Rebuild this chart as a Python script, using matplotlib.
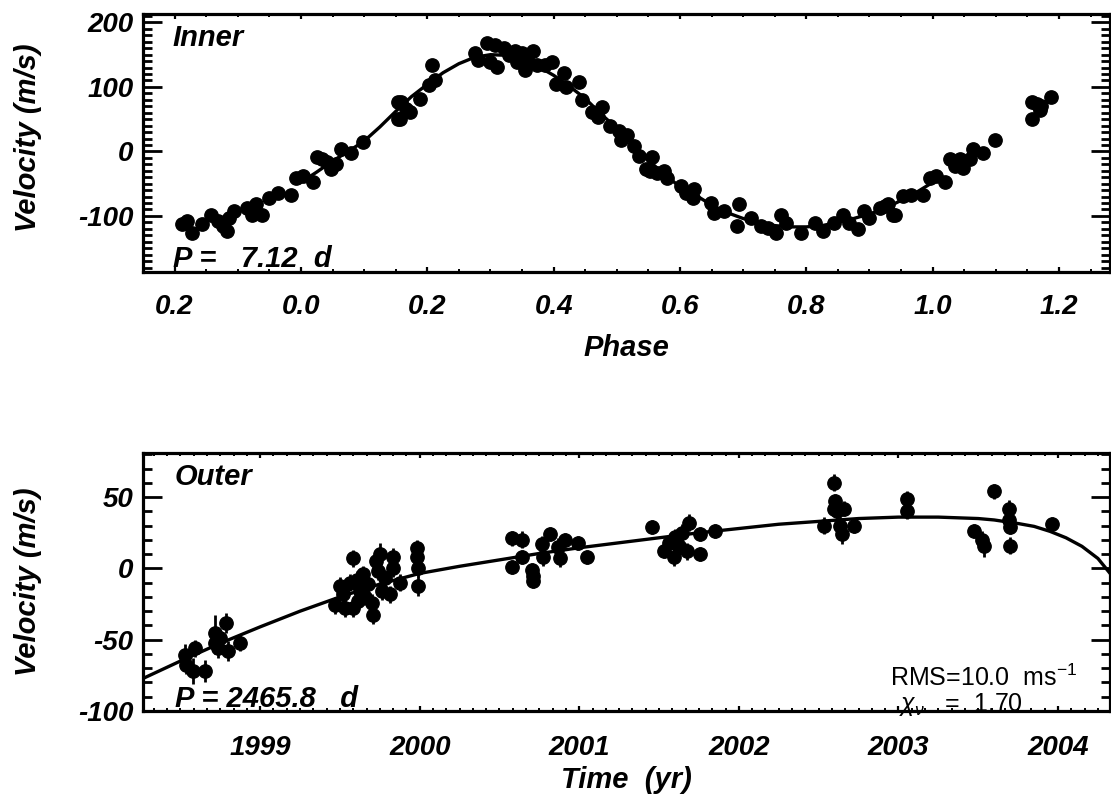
import numpy as np
import matplotlib
matplotlib.use("Agg")
import matplotlib.pyplot as plt
from matplotlib.ticker import FixedLocator, FixedFormatter, MultipleLocator

plt.rcParams['font.family'] = ['Liberation Sans', 'DejaVu Sans']
plt.rcParams['axes.unicode_minus'] = False
plt.rcParams['mathtext.fontset'] = 'custom'
plt.rcParams['mathtext.rm'] = 'Liberation Sans'
plt.rcParams['mathtext.it'] = 'Liberation Sans:italic'

################################### DATA ###################################

# inner planet, phase folded velocities
inner_phase = [-0.188, -0.180, -0.172, -0.156, -0.143, -0.132, -0.124, -0.117, -0.114, -0.106,
               -0.085, -0.077, -0.071, -0.061, -0.050, -0.037, -0.016, -0.008, 0.003, 0.019,
               0.026, 0.034, 0.042, 0.048, 0.056, 0.063, 0.079, 0.098, 0.153, 0.153,
               0.159, 0.167, 0.157, 0.173, 0.188, 0.202, 0.212, 0.207, 0.276, 0.281,
               0.294, 0.307, 0.300, 0.310, 0.321, 0.329, 0.339, 0.342, 0.350, 0.355,
               0.358, 0.368, 0.374, 0.387, 0.397, 0.403, 0.416, 0.419, 0.440, 0.445,
               0.461, 0.477, 0.471, 0.490, 0.503, 0.506, 0.516, 0.527, 0.535, 0.546,
               0.556, 0.564, 0.553, 0.575, 0.580, 0.601, 0.609, 0.622, 0.620, 0.649,
               0.654, 0.670, 0.694, 0.691, 0.712, 0.728, 0.739, 0.752, 0.760, 0.768,
               0.792, 0.813, 0.826, 0.844, 0.858, 0.868, 0.882, 0.892, 0.900, 0.916,
               0.929, 0.940, 0.953, 0.924, 0.937, 0.966, 0.985, 0.995, 1.006, 1.019,
               1.027, 1.035, 1.043, 1.048, 1.059, 1.064, 1.079, 1.098, 1.157, 1.157,
               1.170, 1.165, 1.188, 1.172]
inner_vel = [-112, -108, -127, -112, -98, -108, -116, -124, -103, -93,
             -88, -98, -82, -98, -72, -64, -67, -41, -38, -48,
             -9, -12, -17, -28, -20, 4, -2, 14, 77, 50,
             77, 66, 50, 61, 82, 103, 110, 134, 152, 142,
             168, 165, 139, 131, 160, 150, 155, 139, 152, 126,
             144, 155, 134, 134, 139, 105, 121, 100, 108, 79,
             61, 69, 53, 40, 32, 17, 25, 9, -7, -28,
             -9, -33, -30, -30, -41, -54, -64, -59, -72, -80,
             -95, -93, -82, -116, -103, -116, -119, -127, -98, -111,
             -127, -111, -124, -111, -98, -111, -121, -93, -103, -88,
             -82, -98, -69, -85, -98, -67, -67, -41, -38, -48,
             -12, -22, -12, -25, -12, 4, -2, 17, 77, 50,
             64, 74, 84, 71]

# inner fitted curve
inner_fit_phase = [0.000, 0.025, 0.050, 0.075, 0.100, 0.125, 0.150, 0.175, 0.200, 0.225,
                   0.250, 0.275, 0.300, 0.325, 0.350, 0.375, 0.400, 0.425, 0.450, 0.475,
                   0.500, 0.525, 0.550, 0.575, 0.600, 0.625, 0.650, 0.675, 0.700, 0.725,
                   0.750, 0.775, 0.800, 0.825, 0.850, 0.875, 0.900, 0.925, 0.950, 0.975,
                   1.000]
inner_fit_vel = [-48, -32, -15, 0, 16, 38, 62, 85, 104, 122,
                 136, 146, 150, 149, 143, 132, 118, 101, 82, 58,
                 36, 12, -14, -35, -55, -68, -83, -95, -104, -110,
                 -115, -117, -117, -115, -110, -104, -97, -88, -76, -63,
                 -48]

# outer planet, velocities vs time
outer_year = [1998.528, 1998.538, 1998.580, 1998.591, 1998.653, 1998.716, 1998.716, 1998.737,
              1998.789, 1998.799, 1998.873, 1998.747,
              1999.468, 1999.500, 1999.520, 1999.531, 1999.583, 1999.583, 1999.604, 1999.625,
              1999.646, 1999.656, 1999.677, 1999.698, 1999.708, 1999.729, 1999.740, 1999.750,
              1999.761, 1999.781, 1999.813, 1999.834, 1999.834, 1999.876, 1999.980, 1999.980,
              1999.991, 1999.991, 1999.562, 1999.614,
              2000.576, 2000.576, 2000.638, 2000.638, 2000.701, 2000.712, 2000.712, 2000.764,
              2000.774, 2000.816, 2000.868, 2000.879, 2000.910, 2000.994, 2001.046,
              2001.456, 2001.529, 2001.560, 2001.591, 2001.602, 2001.623, 2001.644, 2001.675,
              2001.686, 2001.759, 2001.759, 2001.853,
              2002.532, 2002.594, 2002.605, 2002.616, 2002.636, 2002.647, 2002.657, 2002.594,
              2002.720,
              2003.054, 2003.054,
              2003.472, 2003.525, 2003.535, 2003.597, 2003.691, 2003.691, 2003.702, 2003.702,
              2003.963]
outer_vel = [-61, -68, -72, -56, -72, -45, -52, -56,
             -38, -58, -52, -49,
             -26, -12, -18, -28, 7, -28, -8, -16,
             -4, -20, -11, -24, -33, 5, -2, 10,
             -16, -7, -18, 8, 0, -10, 14, 8,
             0, -12, -10, -23,
             21, 1, 20, 8, -1, -5, -9, 17,
             8, 24, 15, 7, 20, 18, 8,
             29, 12, 18, 8, 22, 16, 25, 12,
             32, 24, 10, 26,
             30, 60, 47, 40, 30, 24, 42, 42,
             30,
             49, 40,
             26, 20, 16, 54, 42, 34, 29, 16,
             31]
outer_err = [8, 6, 9, 6, 8, 12, 8, 7,
             7, 7, 6, 6,
             6, 6, 6, 6, 6, 6, 6, 6,
             6, 6, 6, 6, 6, 6, 6, 8,
             6, 6, 6, 6, 6, 6, 6, 6,
             6, 7, 6, 6,
             5, 5, 6, 5, 5, 5, 5, 6,
             6, 5, 6, 6, 5, 5, 5,
             5, 5, 5, 6, 6, 6, 6, 6,
             6, 5, 5, 5,
             6, 6, 5, 5, 6, 7, 5, 5,
             5,
             5, 5,
             5, 6, 8, 5, 6, 6, 5, 6,
             5]

# outer fitted curve
outer_fit_year = [1998.27, 1998.50, 1998.75, 1999.00, 1999.25, 1999.50, 1999.75, 2000.00,
                  2000.25, 2000.50, 2000.75, 2001.00, 2001.25, 2001.50, 2001.75, 2002.00,
                  2002.25, 2002.50, 2002.75, 2003.00, 2003.25, 2003.50, 2003.60, 2003.75,
                  2003.85, 2003.95, 2004.05, 2004.15, 2004.25, 2004.33]
outer_fit_vel = [-77, -65, -52.5, -41, -30, -20, -11, -3.5,
                 1.5, 6, 10.5, 14.5, 18, 21.5, 25, 28,
                 31, 33, 35, 36, 36, 35, 34, 31.5,
                 29.5, 26, 21.5, 15.5, 7, -4]

inner_xticks = [-0.2, 0.0, 0.2, 0.4, 0.6, 0.8, 1.0, 1.2]
inner_xlabels = ['0.2', '0.0', '0.2', '0.4', '0.6', '0.8', '1.0', '1.2']
inner_yticks = [-100, 0, 100, 200]
outer_xticks = [1999, 2000, 2001, 2002, 2003, 2004]
outer_yticks = [-100, -50, 0, 50]

################################### PLOT ###################################

fig = plt.figure(figsize=(11.11, 8.02), dpi=100)
ax1 = fig.add_axes([0.1287, 0.6608, 0.8700, 0.3217])
ax2 = fig.add_axes([0.1287, 0.1135, 0.8700, 0.3217])

bold = dict(fontsize=21, fontweight='bold', fontstyle='italic')


def style_axes(ax, xpad):
  for s in ax.spines.values():
    s.set_linewidth(2.3)
  ax.tick_params(which='both', direction='in', top=True, right=True, colors='black')
  ax.tick_params(axis='x', which='major', length=3.8, width=1.6, pad=xpad)
  ax.tick_params(axis='x', which='minor', length=2.0, width=1.4)
  ax.tick_params(axis='y', which='major', length=13.5, width=2.0, pad=7)
  ax.tick_params(axis='y', which='minor', length=6.8, width=2.0)
  for lab in ax.get_xticklabels() + ax.get_yticklabels():
    lab.set_fontsize(20)
    lab.set_fontweight('bold')
    lab.set_fontstyle('italic')


# inner
ax1.plot(inner_fit_phase, inner_fit_vel, color='black', lw=2.4, zorder=2)
ax1.plot(inner_phase, inner_vel, 'o', color='black', ms=9.6, zorder=3)
ax1.set_xlim(-0.25, 1.28)
ax1.set_ylim(-187, 213)
ax1.xaxis.set_major_locator(FixedLocator(inner_xticks))
ax1.xaxis.set_major_formatter(FixedFormatter(inner_xlabels))
ax1.xaxis.set_minor_locator(MultipleLocator(0.05))
ax1.yaxis.set_major_locator(FixedLocator(inner_yticks))
ax1.yaxis.set_minor_locator(MultipleLocator(10))
style_axes(ax1, 16)
ax1.set_xlabel('Phase', **bold)
ax1.set_ylabel('Velocity (m/s)', **bold)
ax1.xaxis.set_label_coords(0.5, -0.24)
ax1.yaxis.set_label_coords(-0.104, 0.52)
ax1.text(0.031, 0.878, 'Inner', transform=ax1.transAxes, **bold)
ax1.text(0.031, 0.02, 'P =   7.12  d', transform=ax1.transAxes, **bold)

# outer
ax2.plot(outer_fit_year, outer_fit_vel, color='black', lw=2.4, zorder=2)
ax2.errorbar(outer_year, outer_vel, yerr=outer_err, fmt='o', color='black', ms=9.6,
             elinewidth=2.0, capsize=0, zorder=3)
ax2.set_xlim(1998.266, 2004.323)
ax2.set_ylim(-100, 81)
ax2.xaxis.set_major_locator(FixedLocator(outer_xticks))
ax2.xaxis.set_minor_locator(MultipleLocator(1 / 12))
ax2.yaxis.set_major_locator(FixedLocator(outer_yticks))
ax2.yaxis.set_minor_locator(MultipleLocator(10))
style_axes(ax2, 17)
ax2.set_xlabel('Time  (yr)', **bold)
ax2.set_ylabel('Velocity (m/s)', **bold)
ax2.xaxis.set_label_coords(0.5, -0.215)
ax2.yaxis.set_label_coords(-0.104, 0.5)
ax2.text(0.033, 0.874, 'Outer', transform=ax2.transAxes, **bold)
ax2.text(0.033, 0.017, 'P = 2465.8   d', transform=ax2.transAxes, **bold)
ax2.text(0.773, 0.095, r'RMS=10.0  ms$^{-1}$', transform=ax2.transAxes, fontsize=18)
ax2.text(0.782, 0.0, r'$\chi_{\nu}$   =  1.70', transform=ax2.transAxes, fontsize=18)

fig.savefig('out.png', dpi=100)
